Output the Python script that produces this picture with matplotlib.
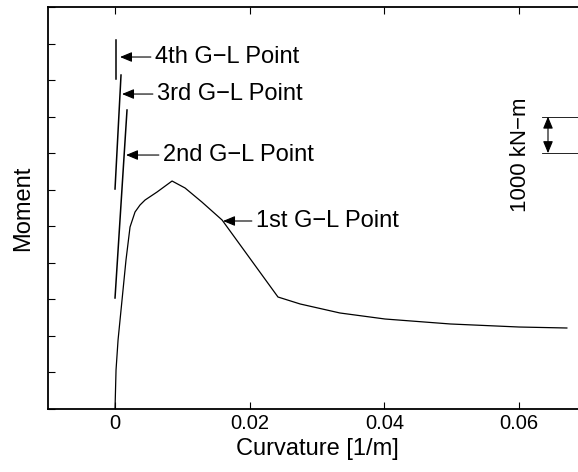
import matplotlib
matplotlib.use("Agg")
import matplotlib.pyplot as plt

plt.rcParams['font.family'] = ['Liberation Sans', 'DejaVu Sans']

############ INPUT DATA ############################################
# main moment-curvature curve (1st G-L point)
curv_1 = [0.0, 0.00015, 0.00045, 0.00104, 0.00163, 0.00223, 0.00297, 0.00371,
          0.00446, 0.00624, 0.00847, 0.0104, 0.0129, 0.0159, 0.0242, 0.0275,
          0.0334, 0.0401, 0.0498, 0.0600, 0.0671]
mom_1 = [0, 1067, 1888, 2982, 4077, 4980, 5390, 5581,
         5718, 5937, 6238, 6047, 5663, 5171, 3064, 2873,
         2627, 2462, 2326, 2243, 2216]

# higher G-L points (short elastic branches)
curv_2 = [0.0, 0.00178]
mom_2 = [3037, 8181]
curv_3 = [0.0, 0.00089]
mom_3 = [6019, 9138]
curv_4 = [0.0001, 0.0001]
mom_4 = [9029, 10096]

labels = ["1st G\u2212L Point", "2nd G\u2212L Point", "3rd G\u2212L Point", "4th G\u2212L Point"]
arrow_tip = [(0.01604, 5144), (0.00163, 6949), (0.00104, 8618), (0.00074, 9631)]
text_pos = [(0.02094, 5144), (0.00713, 6949), (0.00624, 8618), (0.00594, 9631)]

xticks = [0, 0.02, 0.04, 0.06]
xtick_labels = ["0", "0.02", "0.04", "0.06"]
yticks = list(range(0, 11001, 1000))

scale_x = 0.0643
scale_y = [7000, 8000]
####################################################################

fig = plt.figure(figsize=(5.78, 4.72), dpi=100)
ax = fig.add_axes([0.0825, 0.1335, 0.932, 0.8517])

ax.plot(curv_1, mom_1, color='black', lw=0.9)
ax.plot(curv_2, mom_2, color='black', lw=1.1)
ax.plot(curv_3, mom_3, color='black', lw=1.1)
ax.plot(curv_4, mom_4, color='black', lw=1.1)

# arrows + labels for the G-L points
for lab, tip, pos in zip(labels, arrow_tip, text_pos):
    ax.annotate(lab, xy=tip, xytext=pos, ha='left', va='center', fontsize=17,
                arrowprops=dict(arrowstyle='-|>,head_length=0.6,head_width=0.25',
                                color='black', lw=0.8, shrinkA=1, shrinkB=0,
                                mutation_scale=12))

# 1000 kN-m scale bar
ax.plot([scale_x - 0.0009, 0.08], [scale_y[0], scale_y[0]], color='black', lw=0.6, clip_on=False)
ax.plot([scale_x - 0.0009, 0.08], [scale_y[1], scale_y[1]], color='black', lw=0.6, clip_on=False)
ax.annotate("", xy=(scale_x, scale_y[1]), xytext=(scale_x, scale_y[0]),
            arrowprops=dict(arrowstyle='<|-|>,head_length=0.6,head_width=0.25',
                            color='black', lw=0.8, shrinkA=0, shrinkB=0,
                            mutation_scale=12))
ax.text(0.0602, 6950, "1000 kN\u2212m", rotation=90, ha='center', va='center', fontsize=16)

ax.set_xlim(-0.01, 0.07)
ax.set_ylim(0, 11000)
ax.set_xticks(xticks)
ax.set_xticklabels(xtick_labels, fontsize=14.5)
ax.set_yticks(yticks)
ax.set_yticklabels([])
ax.tick_params(direction='in', length=5, width=0.8, top=True, right=False)
for s in ax.spines.values():
    s.set_linewidth(1.3)

ax.set_xlabel("Curvature [1/m]", fontsize=17, labelpad=4)
ax.set_ylabel("Moment", fontsize=17, labelpad=6)

fig.savefig("out.png", dpi=100)
